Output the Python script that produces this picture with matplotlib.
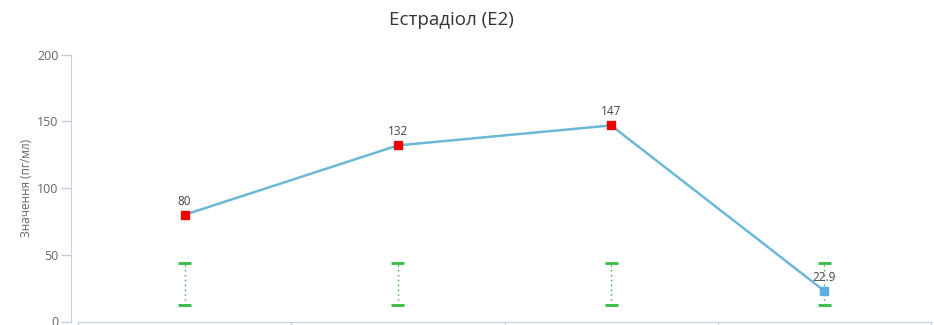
import matplotlib
matplotlib.use("Agg")
import matplotlib.pyplot as plt

plt.rcParams['font.family'] = ['Open Sans', 'DejaVu Sans']

title = "Естрадіол (E2)"
ylabel = "Значення (пг/мл)"
categories = ["", "", "", ""]
values = [80, 132, 147, 22.9]
value_labels = ["80", "132", "147", "22.9"]
ref_low = [12.2, 12.2, 12.2, 12.2]
ref_high = [43.8, 43.8, 43.8, 43.8]
yticks = [0, 50, 100, 150, 200]

W, H = 934, 325
fig = plt.figure(figsize=(W / 100, H / 100), dpi=100)
left, right = 78 / W, 931 / W
bottom, top = 1 - 321.5 / H, 1 - 54.7 / H
ax = fig.add_axes([left, bottom, right - left, top - bottom])

x = list(range(len(values)))
line_color = "#6cb8d6"
ax.plot(x, values, color=line_color, lw=1.8, zorder=2)

out_color = "#ee0000"
in_color = "#5aaee0"
for xi, v, lo, hi in zip(x, values, ref_low, ref_high):
    c = in_color if lo <= v <= hi else out_color
    ax.plot([xi], [v], marker="s", ms=6, color=c, mec=c, zorder=3, ls="none")

cap = 0.031
for xi, lo, hi in zip(x, ref_low, ref_high):
    ax.plot([xi, xi], [lo, hi], color="#2eaa3c", lw=1.0, ls=(0, (1, 2.5)), zorder=1)
    ax.plot([xi - cap, xi + cap], [lo, lo], color="#33bb44", lw=2, solid_capstyle="butt", zorder=1)
    ax.plot([xi - cap, xi + cap], [hi, hi], color="#33bb44", lw=2, solid_capstyle="butt", zorder=1)

for xi, v, lab in zip(x, values, value_labels):
    ax.annotate(lab, (xi, v), xytext=(0, 5), textcoords="offset points",
                ha="center", va="bottom", fontsize=8.5, color="#444444", zorder=4)

ax.set_xlim(-0.5, len(values) - 0.5)
ax.set_ylim(0, 200)
ax.set_yticks(yticks)
ax.set_yticklabels([str(t) for t in yticks])
ax.set_xticks([i - 0.5 for i in range(len(values) + 1)])
ax.set_xticklabels([])

axis_color = "#c0d0e0"
for s in ["top", "right"]:
    ax.spines[s].set_visible(False)
ax.spines["left"].set_position(("outward", 5))
ax.spines["left"].set_color(axis_color)
ax.spines["bottom"].set_color(axis_color)
ax.tick_params(axis="y", length=7, width=1, color=axis_color, labelcolor="#666666", labelsize=9, pad=2)
ax.tick_params(axis="x", length=8, width=1, color=axis_color, direction="out")

ax.set_ylabel(ylabel, fontsize=8.5, color="#666666", labelpad=3)
fig.text(451 / W, 1 - 20 / H, title, ha="center", va="center", fontsize=13.5, color="#333333")

fig.savefig("out.png", dpi=100)
